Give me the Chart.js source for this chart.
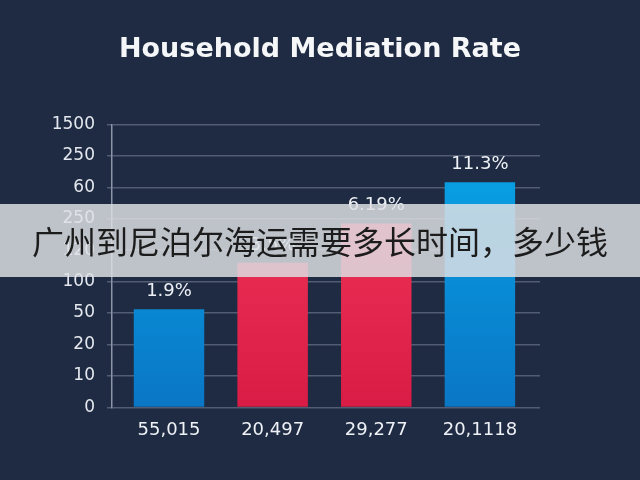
<!DOCTYPE html>
<html>
<head>
<meta charset="utf-8">
<script src="https://cdn.jsdelivr.net/npm/chart.js@4/dist/chart.umd.min.js"></script>
<style>
  html, body { margin: 0; padding: 0; background: #1e2b43; }
  #wrap { position: relative; width: 640px; height: 480px; }
  #banner {
    position: absolute; left: 0; top: 204px; width: 640px; height: 73px;
    background: rgba(222, 224, 228, 0.84);
    color: #1c1c1c; font-family: "Noto Sans CJK SC", sans-serif;
    font-size: 32px; line-height: 73px; text-align: center;
  }
</style>
</head>
<body>
<div id="wrap">
  <canvas id="barChart" width="640" height="480"></canvas>
  <div id="banner">广州到尼泊尔海运需要多长时间，多少钱</div>
</div>
<script>
// categories along the bottom
var categories = ['55,015', '20,497', '29,277', '20,1118'];
// bar heights, measured in grid steps from the bottom line
var barHeights = [3.12, 4.6, 5.85, 7.16];
var barLabels = ['1.9%', '3.5%', '6.19%', '11.3%'];
// the y axis labels as printed, bottom to top
var tickLabels = ['0', '10', '20', '50', '100', '120', '250', '60', '250', '1500'];

var fontFamily = '"DejaVu Sans", sans-serif';

function makeGradient(ctx, area, top, bottom) {
    var g = ctx.createLinearGradient(0, area.top, 0, area.bottom);
    g.addColorStop(0, top);
    g.addColorStop(1, bottom);
    return g;
}

var barValueLabels = {
    id: 'barValueLabels',
    afterDatasetsDraw: function (chart) {
        var ctx = chart.ctx;
        var meta = chart.getDatasetMeta(0);
        ctx.save();
        ctx.fillStyle = '#eef1f5';
        ctx.font = '18px ' + fontFamily;
        ctx.textAlign = 'center';
        ctx.textBaseline = 'alphabetic';
        meta.data.forEach(function (bar, i) {
            ctx.fillText(barLabels[i], bar.x, bar.y - 13);
        });
        ctx.restore();
    }
};

var ctx = document.getElementById('barChart');

var myChart = new Chart(ctx, {
    type: 'bar',
    data: {
        datasets: [{
            data: barHeights.map(function (v, i) { return { x: i, y: v }; }),
            borderWidth: 0,
            barPercentage: 0.68,
            categoryPercentage: 1,
            backgroundColor: function (c) {
                var area = c.chart.chartArea;
                if (!area) return '#0a8fd8';
                var red = c.dataIndex === 1 || c.dataIndex === 2;
                return red
                    ? makeGradient(c.chart.ctx, area, '#f53a5c', '#d91c45')
                    : makeGradient(c.chart.ctx, area, '#08a8e8', '#0a76c6');
            }
        }]
    },
    options: {
        responsive: false,
        animation: false,
        layout: { padding: { left: 0, right: 0, top: 0, bottom: 35 } },
        scales: {
            y: {
                min: 0,
                max: 9,
                afterFit: function (axis) { axis.width = 112; },
                ticks: {
                    stepSize: 1,
                    padding: 12,
                    color: '#e4e8ee',
                    font: { size: 17, family: fontFamily },
                    callback: function (value) {
                        return tickLabels[value];
                    }
                },
                grid: { color: '#525d73', lineWidth: 1.5, tickLength: 5 },
                border: { display: true, color: '#8d96a8', width: 1.5 }
            },
            // empty axis that only keeps the right margin
            yRight: {
                position: 'right',
                min: 0,
                max: 1,
                afterFit: function (axis) { axis.width = 100; },
                ticks: { display: false },
                grid: { display: false },
                border: { display: false }
            },
            x: {
                type: 'linear',
                offset: false,
                min: -0.55,
                max: 3.58,
                afterBuildTicks: function (axis) {
                    axis.ticks = categories.map(function (c, i) { return { value: i }; });
                },
                ticks: {
                    padding: 4,
                    color: '#eef1f5',
                    font: { size: 18, family: fontFamily },
                    callback: function (value) {
                        return categories[value];
                    }
                },
                grid: { display: false },
                border: { display: false }
            }
        },
        plugins: {
            legend: { display: false },
            tooltip: { enabled: false },
            title: {
                display: true,
                text: 'Household Mediation Rate',
                color: '#f4f6f8',
                font: { size: 27, weight: 'bold', family: fontFamily },
                padding: { top: 34, bottom: 58 }
            }
        }
    },
    plugins: [barValueLabels]
});
</script>
</body>
</html>
